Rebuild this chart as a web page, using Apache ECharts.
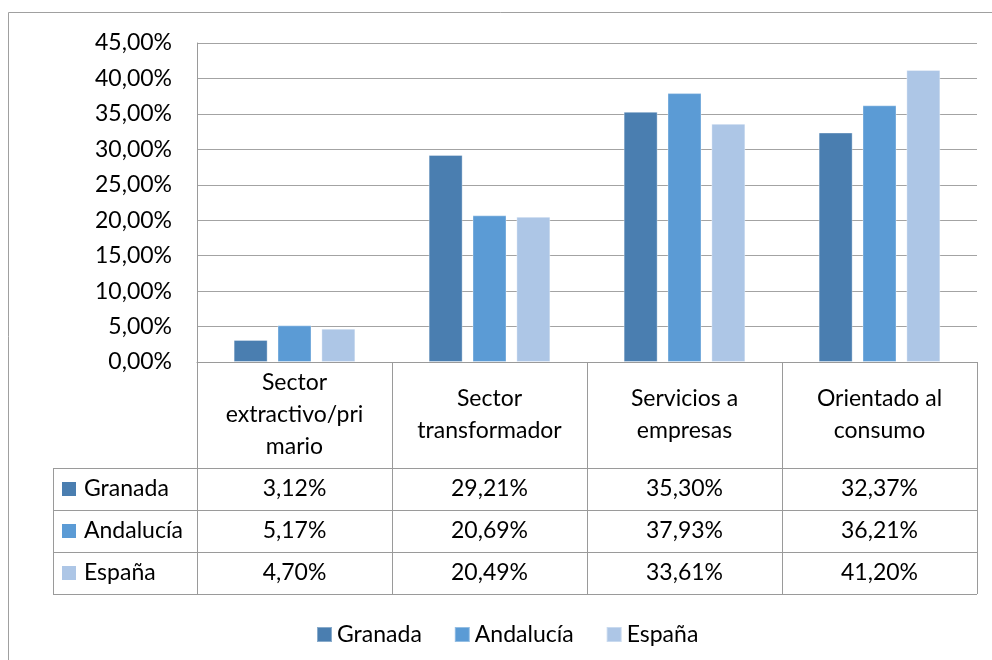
<!DOCTYPE html>
<html>
<head>
<meta charset="utf-8">
<script src="https://cdn.jsdelivr.net/npm/echarts@6/dist/echarts.min.js"></script>
<style>html,body{margin:0;padding:0;background:#fff;}#c{width:992px;height:660px;}</style>
</head>
<body>
<div id="c"></div>
<script>
const categories = ['Sector\nextractivo/pri\nmario', 'Sector\ntransformador', 'Servicios a\nempresas', 'Orientado al\nconsumo'];
const seriesNames = ['Granada', 'Andalucía', 'España'];
const granada = [3.12, 29.21, 35.30, 32.37];
const andalucia = [5.17, 20.69, 37.93, 36.21];
const espana = [4.70, 20.49, 33.61, 41.20];
const colors = ['#4A7EB0', '#5B9BD5', '#ADC6E6'];
const allData = [granada, andalucia, espana];

const FONT = 'Lato';
const FS = 23;
const fmt = v => v.toFixed(2).replace('.', ',') + '%';
const chart = echarts.init(document.getElementById('c'));

const gridLeft = 197, gridRight = 15, gridTop = 43, gridBottom = 298;
const axisY = 660 - gridBottom; // 362
const headerH = 106, rowH = 42;
const tableLeft = 53;
const tableBottom = axisY + headerH + rowH * 3;

chart.setOption({
  animation: false,
  textStyle: { fontFamily: FONT },
  grid: { left: gridLeft, right: gridRight, top: gridTop, bottom: gridBottom },
  legend: {
    left: 311, top: 618,
    itemWidth: 15, itemHeight: 15, itemGap: 32,
    icon: 'rect',
    textStyle: { fontFamily: FONT, fontSize: FS, color: '#000' },
    data: seriesNames
  },
  xAxis: {
    type: 'category',
    data: categories,
    axisLine: { lineStyle: { color: '#9a9a9a', width: 1 } },
    axisTick: { show: true, length: tableBottom - axisY, lineStyle: { color: '#9a9a9a' } },
    axisLabel: {
      margin: 53, verticalAlign: 'middle', color: '#000',
      fontFamily: FONT, fontSize: FS, lineHeight: 32, align: 'center'
    }
  },
  yAxis: {
    type: 'value', min: 0, max: 45, interval: 5,
    axisLine: { show: true, lineStyle: { color: '#9a9a9a' } },
    axisTick: { show: false },
    splitLine: { lineStyle: { color: '#a3a3a3', width: 1 } },
    axisLabel: { formatter: v => fmt(v), color: '#000', fontFamily: FONT, fontSize: FS, margin: 25 }
  },
  series: seriesNames.map((n, i) => ({
    name: n, type: 'bar', data: allData[i],
    barWidth: 34, barGap: '29%',
    itemStyle: { color: colors[i], borderColor: 'rgba(255,255,255,0.35)', borderWidth: 1 }
  }))
});

function drawTable() {
  const g = [];
  const lineStyle = { stroke: '#9a9a9a', lineWidth: 1 };
  const rightX = 992 - gridRight;
  // outer frame
  g.push({ type: 'polyline', shape: { points: [[8.5, 660], [8.5, 12.5], [992, 12.5]] }, style: { stroke: '#a0a0a0', lineWidth: 1, fill: null }, silent: true });
  // horizontal table lines
  for (let r = 0; r <= 3; r++) {
    const y = axisY + headerH + r * rowH + 0.5;
    g.push({ type: 'line', shape: { x1: tableLeft, y1: y, x2: rightX, y2: y }, style: lineStyle, silent: true });
  }
  // left table border
  g.push({ type: 'line', shape: { x1: tableLeft + 0.5, y1: axisY + headerH, x2: tableLeft + 0.5, y2: tableBottom }, style: lineStyle, silent: true });
  // rows
  for (let r = 0; r < 3; r++) {
    const cy = axisY + headerH + r * rowH + rowH / 2;
    g.push({ type: 'rect', shape: { x: 62, y: cy - 7, width: 14, height: 14 }, style: { fill: colors[r] }, silent: true });
    g.push({ type: 'text', x: 84, y: cy, style: { text: seriesNames[r], font: FS + 'px ' + FONT, fill: '#000', textAlign: 'left', textVerticalAlign: 'middle' }, silent: true });
    allData[r].forEach((v, c) => {
      const cx = chart.convertToPixel({ xAxisIndex: 0 }, c);
      g.push({ type: 'text', x: cx, y: cy, style: { text: fmt(v), font: FS + 'px ' + FONT, fill: '#000', textAlign: 'center', textVerticalAlign: 'middle' }, silent: true });
    });
  }
  chart.setOption({ graphic: { elements: g } });
}
drawTable();
</script>
</body>
</html>
